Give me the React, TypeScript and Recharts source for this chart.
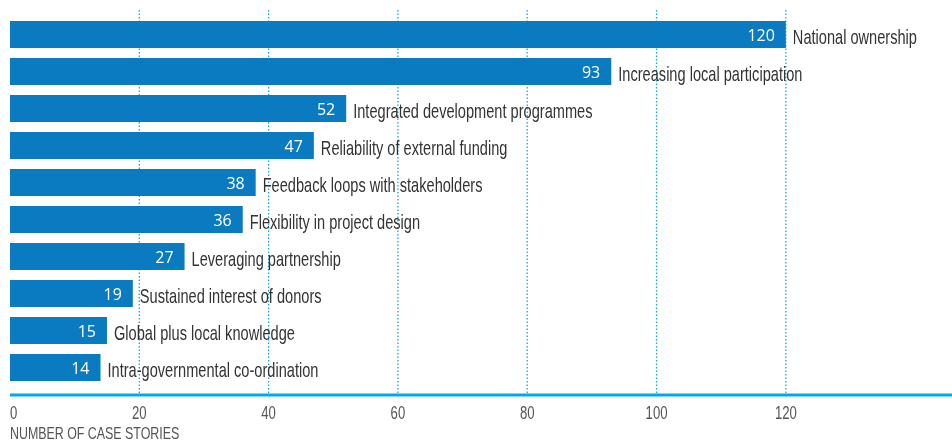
import { Bar, BarChart, CartesianGrid, LabelList, XAxis, YAxis } from 'recharts';

const factors = [
  'National ownership',
  'Increasing local participation',
  'Integrated development programmes',
  'Reliability of external funding',
  'Feedback loops with stakeholders',
  'Flexibility in project design',
  'Leveraging partnership',
  'Sustained interest of donors',
  'Global plus local knowledge',
  'Intra-governmental co-ordination',
];
const caseStories = [120, 93, 52, 47, 38, 36, 27, 19, 15, 14];
const axisTicks = [0, 20, 40, 60, 80, 100, 120];
const gridTicks = [20, 40, 60, 80, 100, 120];

const data = factors.map((name, i) => ({ name, value: caseStories[i] }));

// condensed look: Arial metrics squeezed horizontally
const FONT = '"Liberation Sans", Arial, sans-serif';
const SQUEEZE = 0.73;

const AxisTick = ({ x, y, payload }: any) => (
  <text
    transform={`translate(${x},${y + 24}) scale(${SQUEEZE},1)`}
    textAnchor={payload.value === 0 ? 'start' : 'middle'}
    fill="#555555"
    fontSize={18}
    fontFamily={FONT}
  >
    {payload.value}
  </text>
);

const AxisTitle = ({ viewBox }: any) => (
  <text
    transform={`translate(${viewBox.x},${viewBox.y + 44}) scale(${SQUEEZE},1)`}
    fill="#555555"
    fontSize={17}
    fontFamily={FONT}
  >
    NUMBER OF CASE STORIES
  </text>
);

const NameLabel = ({ x, y, width, height, value }: any) => (
  <text
    transform={`translate(${x + width + 7},${y + height / 2 + 9}) scale(${SQUEEZE},1)`}
    fill="#333333"
    fontSize={20}
    fontFamily={FONT}
  >
    {value}
  </text>
);

const ValueLabel = ({ x, y, width, height, value }: any) => (
  <text
    x={x + width - 11}
    y={y + height / 2 + 6}
    textAnchor="end"
    fill="#ffffff"
    fontSize={16}
    fontFamily='"Open Sans", sans-serif'
  >
    {value}
  </text>
);

// fixed so the page never gets scrollbars
const App = () => (
  <div style={{ position: 'fixed', left: 0, top: 0, width: 952, height: 441 }}>
    <BarChart
      width={952}
      height={441}
      data={data}
      layout="vertical"
      margin={{ top: 10, right: 0, bottom: 20, left: 10 }}
    >
      <CartesianGrid
        horizontal={false}
        verticalValues={gridTicks}
        stroke="#18a6e3"
        strokeWidth={1.3}
        strokeDasharray="1.5 2"
      />
      <XAxis
        type="number"
        domain={[0, 145.7]}
        ticks={axisTicks}
        interval={0}
        height={26}
        tickSize={0}
        tickMargin={0}
        tickLine={false}
        tick={<AxisTick />}
        axisLine={{ stroke: '#00a9e8', strokeWidth: 3 }}
        label={<AxisTitle />}
      />
      <YAxis type="category" dataKey="name" hide padding={{ top: 6, bottom: 9 }} />
      <Bar dataKey="value" fill="#0a7bc1" barSize={27} isAnimationActive={false}>
        <LabelList dataKey="value" content={<ValueLabel />} />
        <LabelList dataKey="name" content={<NameLabel />} />
      </Bar>
    </BarChart>
  </div>
);

export default App;
